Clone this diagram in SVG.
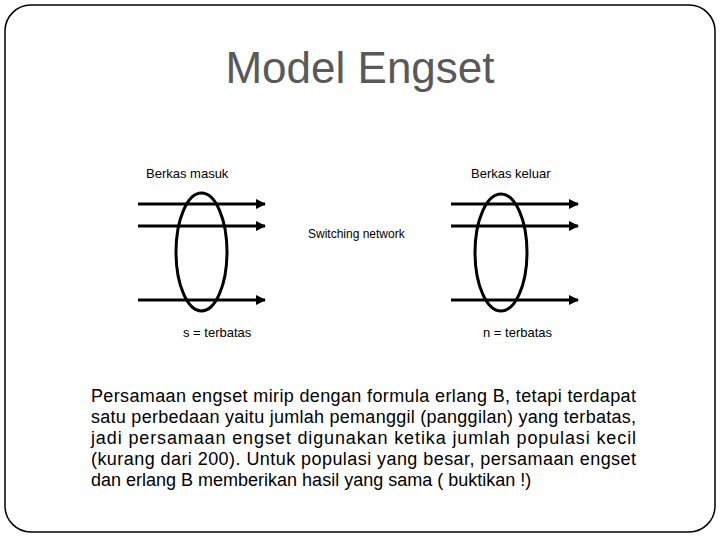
<svg xmlns="http://www.w3.org/2000/svg" width="720" height="540" viewBox="0 0 720 540">
<style>
.lbl{font-family:"Liberation Sans",Arial,sans-serif;font-size:13px;fill:#000}
.sm{font-family:"Liberation Sans",Arial,sans-serif;font-size:12px;fill:#000}
.para{font-family:"Liberation Sans",Arial,sans-serif;font-size:18px;fill:#000}
.title{font-family:"Liberation Sans",Arial,sans-serif;font-size:44px;fill:#595959}
.wire{stroke:#000;stroke-width:3;fill:none;marker-end:url(#ah)}
.ring{stroke:#000;stroke-width:3;fill:none}
</style>
<defs>
<marker id="ah" viewBox="0 0 10 10" refX="9" refY="5" markerWidth="3.5" markerHeight="3.5" orient="auto" markerUnits="strokeWidth">
<path d="M0,0 L10,5 L0,10 z" fill="#000"/>
</marker>
</defs>
<rect x="5" y="5" width="710" height="527" rx="26" ry="26" fill="#fff" stroke="#000" stroke-width="1.5"/>
<text class="title" x="360" y="83" text-anchor="middle">Model Engset</text>
<g id="connectors">
<line class="wire" x1="138" y1="204" x2="265" y2="204"/>
<line class="wire" x1="138" y1="226" x2="265" y2="226"/>
<line class="wire" x1="138" y1="300" x2="265" y2="300"/>
<line class="wire" x1="451" y1="204" x2="578" y2="204"/>
<line class="wire" x1="451" y1="226" x2="578" y2="226"/>
<line class="wire" x1="451" y1="300" x2="578" y2="300"/>
</g>
<g id="berkas-masuk">
<ellipse class="ring" cx="201.5" cy="252" rx="25.5" ry="59"/>
<text class="lbl" x="146" y="178">Berkas masuk</text>
<text class="lbl" x="183" y="337">s = terbatas</text>
</g>
<g id="berkas-keluar">
<ellipse class="ring" cx="501" cy="252.5" rx="26" ry="58.5"/>
<text class="lbl" x="471" y="178">Berkas keluar</text>
<text class="lbl" x="483" y="337">n = terbatas</text>
</g>
<g id="switching-network">
<text class="sm" x="308" y="238">Switching network</text>
</g>
<g id="paragraph">
<text class="para" x="91" y="402" textLength="545" lengthAdjust="spacing">Persamaan engset mirip dengan formula erlang B, tetapi terdapat</text>
<text class="para" x="91" y="423" textLength="545" lengthAdjust="spacing">satu perbedaan yaitu jumlah pemanggil (panggilan) yang terbatas,</text>
<text class="para" x="91" y="444" textLength="545" lengthAdjust="spacing">jadi persamaan engset digunakan ketika jumlah populasi kecil</text>
<text class="para" x="91" y="465" textLength="545" lengthAdjust="spacing">(kurang dari 200). Untuk populasi yang besar, persamaan engset</text>
<text class="para" x="91" y="486">dan erlang B memberikan hasil yang sama ( buktikan !)</text>
</g>
</svg>
